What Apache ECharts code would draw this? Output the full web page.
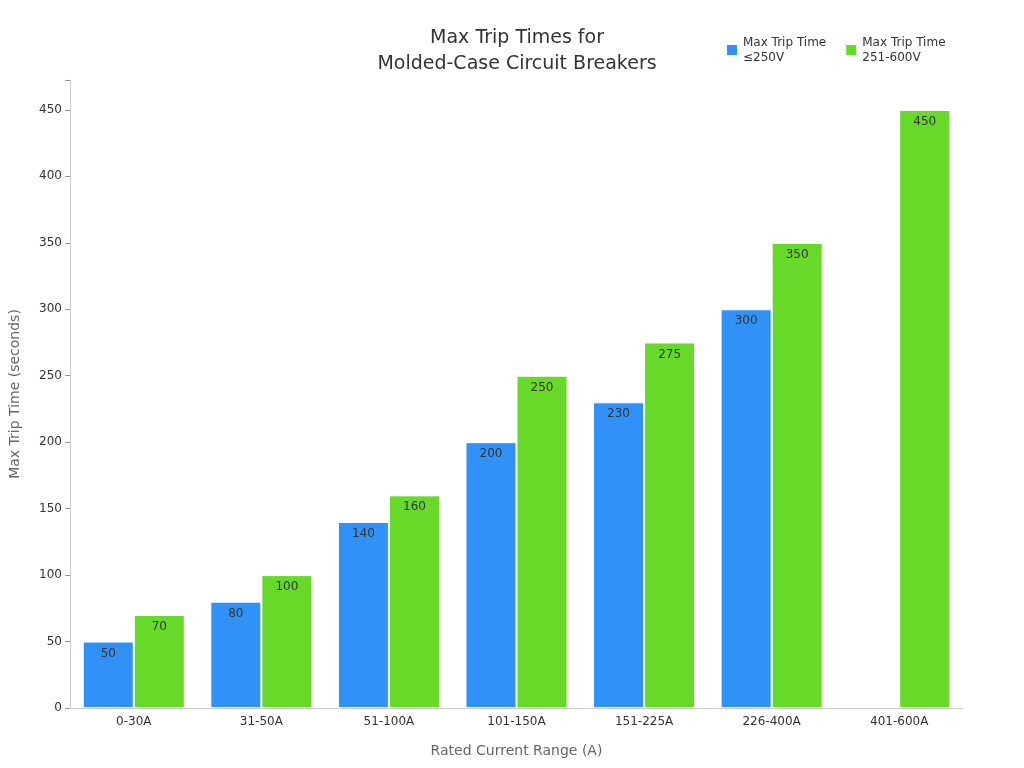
<!DOCTYPE html>
<html><head><meta charset="utf-8">
<script src="https://cdn.jsdelivr.net/npm/echarts@6/dist/echarts.min.js"></script>
<style>html,body{margin:0;padding:0}#c{width:1024px;height:768px}</style>
</head><body><div id="c"></div>
<script>
const categories = ['0-30A','31-50A','51-100A','101-150A','151-225A','226-400A','401-600A'];
const lowVoltage = [50,80,140,200,230,300,null];
const highVoltage = [70,100,160,250,275,350,450];
const seriesNames = ['Max Trip Time\n≤250V','Max Trip Time\n251-600V'];
const chart = echarts.init(document.getElementById('c'));
const lbl = {show:true,position:'insideTop',color:'#333',fontSize:12,distance:6};
chart.setOption({
  textStyle:{fontFamily:'DejaVu Sans'},
  title:{text:'Max Trip Times for\nMolded-Case Circuit Breakers',left:512,textAlign:'center',top:20,
    textStyle:{fontSize:19,fontWeight:'normal',color:'#333',lineHeight:26}},
  legend:{top:30,left:720,itemWidth:12,itemHeight:12,icon:'rect',itemGap:18,
    textStyle:{fontSize:12,color:'#333',lineHeight:15}},
  grid:{left:68,right:61,top:80,bottom:60},
  xAxis:{type:'category',data:categories,name:'Rated Current Range (A)',nameLocation:'middle',nameGap:36,
    nameTextStyle:{fontSize:14,color:'#666'},
    axisLine:{lineStyle:{color:'#ccc'}},axisTick:{show:false},axisLabel:{color:'#333',fontSize:12}},
  yAxis:{type:'value',min:0,max:472.5,interval:50,name:'Max Trip Time (seconds)',nameLocation:'middle',nameGap:48,
    nameTextStyle:{fontSize:14,color:'#666'},
    axisLine:{show:true,lineStyle:{color:'#ccc'}},axisTick:{show:true,lineStyle:{color:'#999'}},
    splitLine:{show:false},
    axisLabel:{color:'#333',fontSize:12,formatter:v=>v%50===0?v:''}},
  series:[
    {name:seriesNames[0],type:'bar',data:lowVoltage,barGap:'0%',barCategoryGap:'20%',
      itemStyle:{color:'#3092f7',borderColor:'#fff',borderWidth:1},label:lbl},
    {name:seriesNames[1],type:'bar',data:highVoltage,
      itemStyle:{color:'#67d928',borderColor:'#fff',borderWidth:1},label:lbl}
  ]
});
</script></body></html>
